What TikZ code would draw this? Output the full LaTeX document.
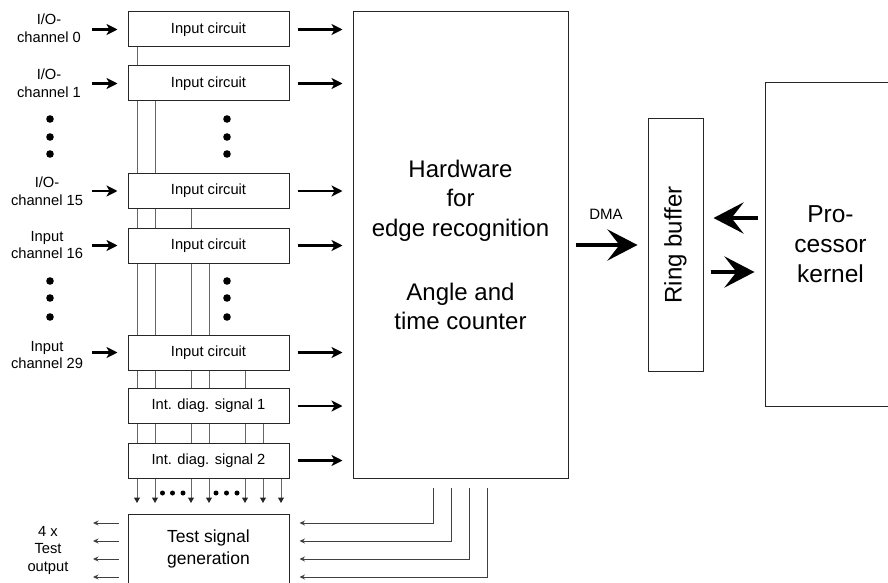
\documentclass[tikz,border=0pt]{standalone}
\usepackage{fontspec}
\setmainfont{Liberation Sans}
\usetikzlibrary{arrows.meta,backgrounds,calc}
\begin{document}
\begin{tikzpicture}[x=1pt,y=-1pt,
  box/.style={draw=black!85, line width=1pt, fill=white, inner sep=0pt, align=center},
  icbox/.style={box, minimum width=161pt, minimum height=35pt, font=\fontsize{14.7}{17}\selectfont},
  lbl/.style={align=center, font=\fontsize{14.7}{17.5}\selectfont, inner sep=0pt},
  fat/.style={line width=2.6pt, -{Stealth[length=11pt,width=11pt,inset=3pt]}},
  bus/.style={draw=black!60, line width=1pt},
  busarrow/.style={bus, -{Triangle[length=5.5pt,width=6pt,fill=black!85,color=black!85]}},
  sig/.style={line width=0.9pt, draw=black!75, -{Stealth[length=5.5pt,width=5pt]}},
  big/.style={line width=4.5pt, -{Stealth[length=30pt,width=31pt,inset=12pt]}},
  bigdot/.style={circle, fill=black, inner sep=0pt, minimum size=7.6pt},
  smalldot/.style={circle, fill=black, inner sep=0pt, minimum size=5pt},
]
\useasboundingbox (0,0) rectangle (888,583);
\clip (0,0) rectangle (888,583);

% input circuit boxes
\node[icbox] (ic0)  at (208.5,29.5)  {Input circuit};
\node[icbox] (ic1)  at (208.5,83.5)  {Input circuit};
\node[icbox] (ic15) at (208.5,191)   {Input circuit};
\node[icbox] (ic16) at (208.5,245.5) {Input circuit};
\node[icbox] (ic29) at (208.5,352.5) {Input circuit};
\node[icbox] (dg1)  at (208.5,406)   {Int. diag. signal 1};
\node[icbox] (dg2)  at (208.5,460.5) {Int. diag. signal 2};
\node[box, minimum width=161pt, minimum height=70pt, font=\fontsize{17.5}{22}\selectfont] (test) at (208.5,549) {Test signal\\generation};

% main blocks
\node[box, minimum width=215pt, minimum height=466pt, font=\fontsize{24}{29.5}\selectfont] (hw) at (460.5,245)
  {Hardware\\for\\edge recognition\\[34.5pt]Angle and\\time counter};
\node[box, minimum width=55pt, minimum height=252pt] (rb) at (675.5,245) {};
\node[rotate=90, font=\fontsize{24}{29}\selectfont, inner sep=0pt] (rbt) at (rb) {Ring buffer};
\node[box, minimum width=131pt, minimum height=323pt, font=\fontsize{24.5}{30}\selectfont] (kp) at (830.5,244.5) {Pro-\\cessor\\kernel};

% left labels
\node[lbl] (l0)  at (49,28)    {I/O-\\channel 0};
\node[lbl] (l1)  at (49,83)    {I/O-\\channel 1};
\node[lbl] (l15) at (47,191)   {I/O-\\channel 15};
\node[lbl] (l16) at (47,245)   {Input\\channel 16};
\node[lbl] (l29) at (47,355)   {Input\\channel 29};
\node[lbl] (lto) at (48,550)   {4 x\\Test\\output};
\node[font=\fontsize{15}{18}\selectfont, inner sep=0pt] (dma) at (606,214) {DMA};

% dots
\foreach \y [count=\i] in {119,137,154} {
  \node[bigdot] (dl\i) at (50,\y) {};
  \node[bigdot] (dm\i) at (227,\y) {};
}
\foreach \y [count=\i] in {281,298,317} {
  \node[bigdot] (el\i) at (50,\y) {};
  \node[bigdot] (em\i) at (227,\y) {};
}
\foreach \x [count=\i] in {162.5,172.5,183,216,226.5,237} {
  \node[smalldot] (sd\i) at (\x,493) {};
}

% input arrows
\foreach \n/\y in {ic0/29.5, ic1/83.5, ic15/191, ic16/245.5, ic29/352.5} {
  \coordinate (in-\n) at (92,\y);
  \draw[fat, shorten >=10pt] (in-\n) -- (\n);
}
% output arrows to hardware
\foreach \n in {ic0, ic1, ic15, ic16, ic29, dg1, dg2} {
  \draw[fat, shorten <=8pt, shorten >=10pt] (\n.east) -- (\n.east -| hw.west);
}

% bus lines (behind boxes)
\coordinate (b1) at (137,503);
\coordinate (b2) at (155,503);
\coordinate (b3) at (191,503);
\coordinate (b4) at (209,503);
\coordinate (b5) at (245,503);
\coordinate (b6) at (263,503);
\coordinate (b7) at (281,503);
\begin{scope}[on background layer]
  \draw[busarrow] (b1 |- ic0.south)  -- (b1);
  \draw[busarrow] (b2 |- ic1.south)  -- (b2);
  \draw[busarrow] (b3 |- ic15.south) -- (b3);
  \draw[busarrow] (b4 |- ic16.south) -- (b4);
  \draw[busarrow] (b5 |- ic29.south) -- (b5);
  \draw[busarrow] (b6 |- dg1.south)  -- (b6);
  \draw[busarrow] (b7 |- dg2.south)  -- (b7);
\end{scope}

% hardware -> test signal generation
\coordinate (t1) at (433,523);
\coordinate (t2) at (451,541);
\coordinate (t3) at (469,559);
\coordinate (t4) at (487,577);
\foreach \t in {t1,t2,t3,t4} {
  \draw[sig, shorten <=9pt, shorten >=10pt] (hw.south -| \t) |- (test.east |- \t);
}
% test outputs
\foreach \y [count=\i] in {523,541,559,577} {
  \coordinate (o\i) at (93,\y);
  \draw[sig, shorten <=9pt] (test.west |- o\i) -- (o\i);
}

% DMA and processor arrows
\draw[big, shorten <=7pt, shorten >=10pt] (hw.east) -- (hw.east -| rb.west);
\coordinate (up) at (735,218);
\coordinate (dn) at (735,272);
\draw[big, shorten <=7pt, shorten >=10pt] (kp.west |- up) -- (rb.east |- up);
\draw[big, shorten <=7pt, shorten >=10pt] (rb.east |- dn) -- (kp.west |- dn);
\end{tikzpicture}
\end{document}
